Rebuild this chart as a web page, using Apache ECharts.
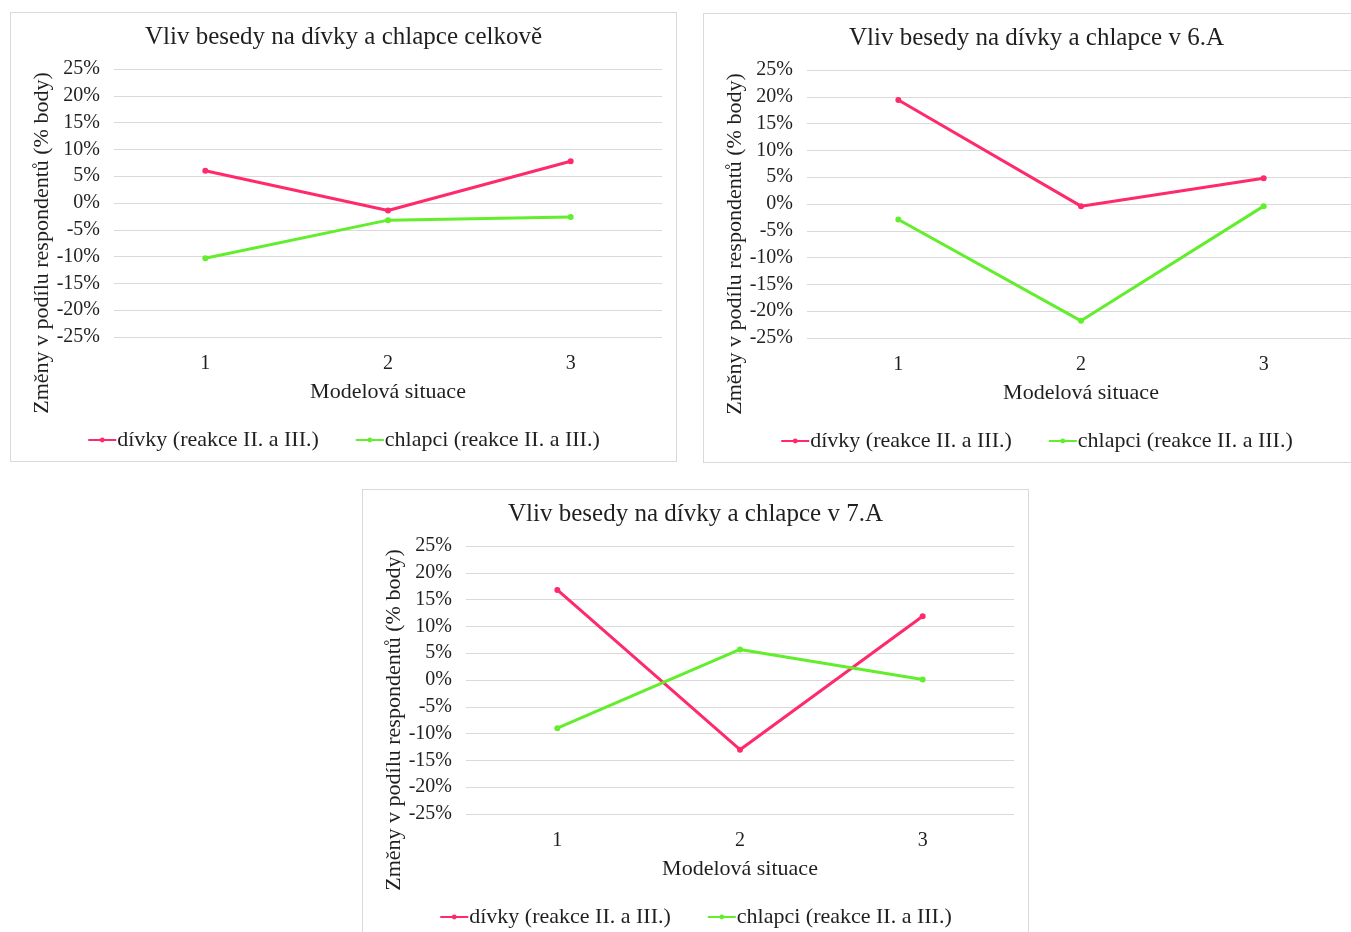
<!DOCTYPE html>
<html>
<head>
<meta charset="utf-8">
<title>Vliv besedy na dívky a chlapce</title>
<script src="https://cdn.jsdelivr.net/npm/echarts@6/dist/echarts.min.js"></script>
<style>
  html, body { margin: 0; padding: 0; background: #fff; overflow: hidden; width: 1351px; height: 932px; }
  .box { position: absolute; width: 667px; height: 450px; border: 1px solid #d9d9d9; box-sizing: border-box; background: #fff; }
</style>
</head>
<body>
<div class="box" id="c1" style="left:10px; top:12px;"></div>
<div class="box" id="c2" style="left:703px; top:13px;"></div>
<div class="box" id="c3" style="left:362px; top:489px;"></div>

<script>
// data (percentage points)
const categories = ['1', '2', '3'];
const seriesNames = ['dívky (reakce II. a III.)', 'chlapci (reakce II. a III.)'];
const titles = [
  'Vliv besedy na dívky a chlapce celkově',
  'Vliv besedy na dívky a chlapce v 6.A',
  'Vliv besedy na dívky a chlapce v 7.A'
];
const girlsAll = [6.0, -1.4, 7.8];
const boysAll = [-10.3, -3.2, -2.6];
const girls6A = [19.4, -0.4, 4.8];
const boys6A = [-2.9, -21.8, -0.4];
const girls7A = [16.8, -13.0, 11.9];
const boys7A = [-9.0, 5.7, 0.1];

const FONT = "'Liberation Serif', 'Times New Roman', serif";
const TXT = '#1f1f1f';
const RED = '#fe2a6c';
const GREEN = '#62ee2c';

function makeChart(id, title, girls, boys) {
  const chart = echarts.init(document.getElementById(id));
  const option = {
    animation: false,
    textStyle: { fontFamily: FONT, color: TXT },
    title: {
      text: title,
      left: 'center',
      top: 12,
      padding: 0,
      textStyle: { fontFamily: FONT, fontSize: 25, fontWeight: 'normal', color: TXT }
    },
    legend: {
      data: seriesNames,
      top: 411,
      left: 'center',
      itemWidth: 28,
      itemHeight: 6,
      itemGap: 36,
      textStyle: { fontFamily: FONT, fontSize: 22, color: TXT, padding: [0, 0, 0, -4] }
    },
    grid: { left: 103, right: 14, top: 56, bottom: 124 },
    xAxis: {
      type: 'category',
      data: categories,
      boundaryGap: true,
      name: 'Modelová situace',
      nameLocation: 'middle',
      nameGap: 44,
      nameTextStyle: { fontFamily: FONT, fontSize: 22, color: TXT },
      axisLine: { show: false },
      axisTick: { show: false },
      axisLabel: { margin: 17, fontFamily: FONT, fontSize: 20, color: TXT }
    },
    yAxis: {
      type: 'value',
      min: -25,
      max: 25,
      interval: 5,
      axisLine: { show: false },
      axisTick: { show: false },
      axisLabel: { margin: 14, formatter: '{value}%', fontFamily: FONT, fontSize: 20, color: TXT },
      splitLine: { lineStyle: { color: '#d9d9d9', width: 1 } }
    },
    graphic: [{
      type: 'text',
      x: 31,
      y: 230,
      rotation: Math.PI / 2,
      style: {
        text: 'Změny v podílu respondentů (% body)',
        font: '22px ' + FONT,
        fill: TXT,
        align: 'center',
        verticalAlign: 'middle'
      }
    }],
    series: [
      {
        name: seriesNames[0],
        type: 'line',
        data: girls,
        symbol: 'circle',
        symbolSize: 6,
        itemStyle: { color: RED },
        lineStyle: { color: RED, width: 3 }
      },
      {
        name: seriesNames[1],
        type: 'line',
        data: boys,
        symbol: 'circle',
        symbolSize: 6,
        itemStyle: { color: GREEN },
        lineStyle: { color: GREEN, width: 3 }
      }
    ]
  };
  chart.setOption(option);
  return chart;
}

makeChart('c1', titles[0], girlsAll, boysAll);
makeChart('c2', titles[1], girls6A, boys6A);
makeChart('c3', titles[2], girls7A, boys7A);
</script>
</body>
</html>
